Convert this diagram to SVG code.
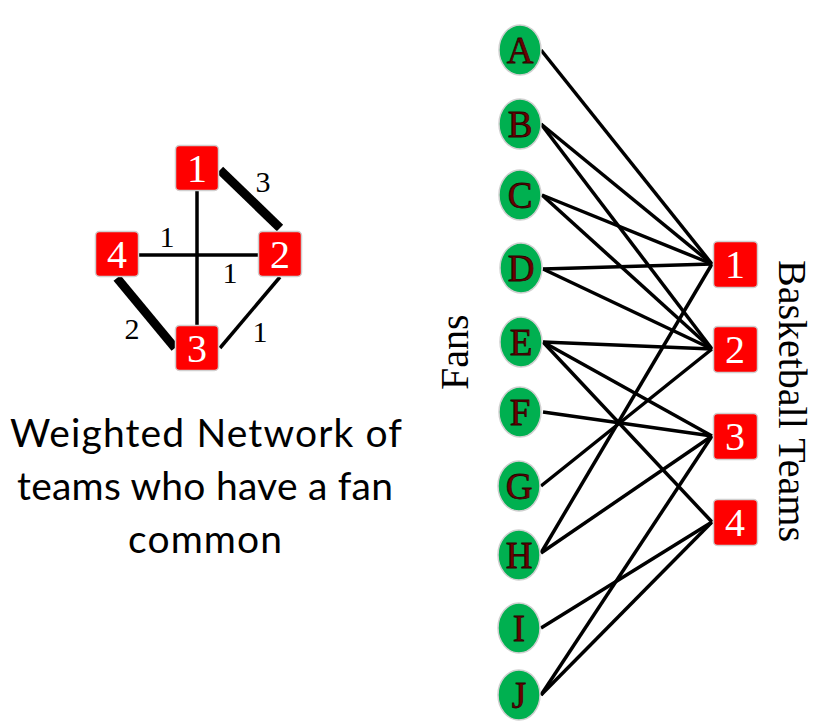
<svg xmlns="http://www.w3.org/2000/svg" width="815" height="724" viewBox="0 0 815 724">
<style>
.box{fill:#FF0000;stroke:#d0d0d0;stroke-width:1.5}
.fan{fill:#00B050;stroke:#d0d0d0;stroke-width:1.5}
.bl{font-family:"Liberation Serif","Times New Roman",serif;font-size:40px;fill:#fff;text-anchor:middle}
.fl{font-family:"Liberation Serif","Times New Roman",serif;font-size:37px;fill:#6B0000;stroke:#2a0000;stroke-width:0.8;text-anchor:middle}
.wl{font-family:"Liberation Serif","Times New Roman",serif;font-size:30px;fill:#000;text-anchor:middle}
.ax{font-family:"Liberation Serif","Times New Roman",serif;font-size:40px;fill:#000}
.cap{font-family:Lato,"Open Sans",sans-serif;font-size:39px;fill:#000;text-anchor:middle}
.e{stroke:#000;stroke-width:3.5;fill:none}
.t{stroke:#000;stroke-width:9;fill:none}
</style>
<!-- left weighted network -->
<g id="wedges">
<line class="e" x1="197" y1="190" x2="197" y2="326"/>
<line class="e" x1="139" y1="255" x2="258" y2="255"/>
<line class="t" x1="220" y1="170" x2="280" y2="228"/>
<line class="t" x1="117" y1="278" x2="175" y2="348"/>
<line class="e" x1="280" y1="277" x2="220" y2="348"/>
</g>
<g id="wlabels">
<text class="wl" x="263" y="192">3</text>
<text class="wl" x="167" y="247">1</text>
<text class="wl" x="230" y="283">1</text>
<text class="wl" x="132" y="339">2</text>
<text class="wl" x="260" y="342">1</text>
</g>
<g id="w1"><rect class="box" x="175.5" y="145.5" width="43" height="45" rx="4"/><text class="bl" x="197" y="182">1</text></g>
<g id="w2"><rect class="box" x="258.5" y="231.5" width="43" height="45" rx="4"/><text class="bl" x="280" y="268">2</text></g>
<g id="w3"><rect class="box" x="175.5" y="325.5" width="43" height="45" rx="4"/><text class="bl" x="197" y="362">3</text></g>
<g id="w4"><rect class="box" x="95.5" y="231.5" width="43" height="45" rx="4"/><text class="bl" x="117" y="268">4</text></g>
<g id="caption">
<text class="cap" x="206" y="447" textLength="392">Weighted Network of</text>
<text class="cap" x="205" y="500" textLength="376">teams who have a fan</text>
<text class="cap" x="205" y="553" textLength="154">common</text>
</g>
<!-- bipartite -->
<g id="connectors">
<line class="e" x1="541" y1="50" x2="712" y2="264"/>
<line class="e" x1="541" y1="124" x2="712" y2="264"/>
<line class="e" x1="541" y1="124" x2="712" y2="349"/>
<line class="e" x1="542" y1="195" x2="712" y2="264"/>
<line class="e" x1="542" y1="195" x2="712" y2="349"/>
<line class="e" x1="543" y1="269" x2="712" y2="264"/>
<line class="e" x1="543" y1="269" x2="712" y2="349"/>
<line class="e" x1="543" y1="342" x2="712" y2="349"/>
<line class="e" x1="543" y1="342" x2="712" y2="436"/>
<line class="e" x1="543" y1="342" x2="712" y2="522"/>
<line class="e" x1="543" y1="412" x2="712" y2="436"/>
<line class="e" x1="541" y1="486" x2="712" y2="349"/>
<line class="e" x1="541" y1="553" x2="712" y2="264"/>
<line class="e" x1="541" y1="553" x2="712" y2="436"/>
<line class="e" x1="541" y1="628" x2="712" y2="522"/>
<line class="e" x1="541" y1="695" x2="712" y2="436"/>
<line class="e" x1="541" y1="695" x2="712" y2="522"/>
</g>
<g id="fanA"><ellipse class="fan" cx="520" cy="50" rx="21" ry="25"/><text class="fl" x="520" y="63">A</text></g>
<g id="fanB"><ellipse class="fan" cx="520" cy="124" rx="21" ry="25"/><text class="fl" x="520" y="137">B</text></g>
<g id="fanC"><ellipse class="fan" cx="520" cy="195" rx="21" ry="25"/><text class="fl" x="520" y="208">C</text></g>
<g id="fanD"><ellipse class="fan" cx="521" cy="268" rx="21" ry="25"/><text class="fl" x="521" y="281">D</text></g>
<g id="fanE"><ellipse class="fan" cx="521" cy="342" rx="21" ry="25"/><text class="fl" x="521" y="355">E</text></g>
<g id="fanF"><ellipse class="fan" cx="520" cy="412" rx="21" ry="25"/><text class="fl" x="520" y="425">F</text></g>
<g id="fanG"><ellipse class="fan" cx="519" cy="486" rx="21" ry="25"/><text class="fl" x="519" y="499">G</text></g>
<g id="fanH"><ellipse class="fan" cx="519" cy="555" rx="21" ry="25"/><text class="fl" x="519" y="568">H</text></g>
<g id="fanI"><ellipse class="fan" cx="519" cy="628" rx="21" ry="25"/><text class="fl" x="519" y="641">I</text></g>
<g id="fanJ"><ellipse class="fan" cx="519" cy="695" rx="21" ry="25"/><text class="fl" x="519" y="708">J</text></g>
<g id="team1"><rect class="box" x="713.5" y="241.5" width="44" height="46" rx="4"/><text class="bl" x="735" y="278">1</text></g>
<g id="team2"><rect class="box" x="713.5" y="326.5" width="44" height="46" rx="4"/><text class="bl" x="735" y="363">2</text></g>
<g id="team3"><rect class="box" x="713.5" y="413.5" width="44" height="46" rx="4"/><text class="bl" x="735" y="450">3</text></g>
<g id="team4"><rect class="box" x="713.5" y="499.5" width="44" height="46" rx="4"/><text class="bl" x="735" y="536">4</text></g>
<g id="axes">
<text class="ax" transform="translate(468,390) rotate(-90)">Fans</text>
<text class="ax" transform="translate(779,260) rotate(90)">Basketball Teams</text>
</g>
</svg>
